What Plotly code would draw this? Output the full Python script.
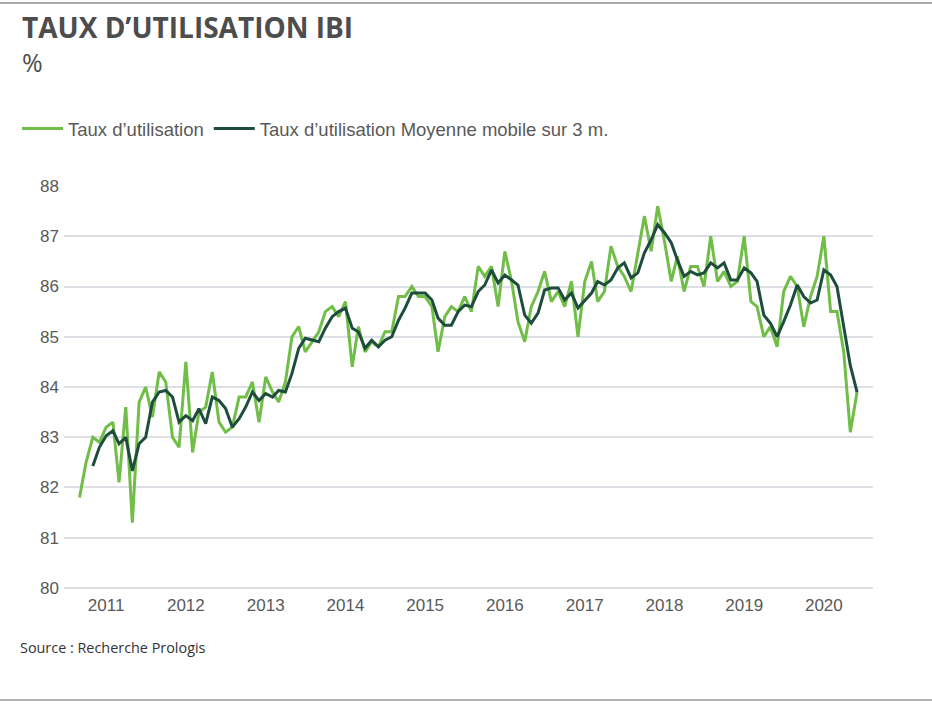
import pandas as pd
import plotly.graph_objects as go

# ---- data (monthly, Sep 2010 -> Jun 2020) ----
start_month = "2010-09-01"
n_months = 118
months = pd.date_range(start_month, periods=n_months, freq="MS")

taux = [81.8, 82.5, 83.0, 82.9, 83.2, 83.3, 82.1, 83.6, 81.3, 83.7,
        84.0, 83.4, 84.3, 84.1, 83.0, 82.8, 84.5, 82.7, 83.5, 83.6,
        84.3, 83.3, 83.1, 83.2, 83.8, 83.8, 84.1, 83.3, 84.2, 83.9,
        83.7, 84.1, 85.0, 85.2, 84.7, 84.9, 85.1, 85.5, 85.6, 85.4,
        85.7, 84.4, 85.2, 84.7, 84.9, 84.8, 85.1, 85.1, 85.8, 85.8,
        86.0, 85.8, 85.8, 85.6, 84.7, 85.4, 85.6, 85.5, 85.8, 85.5,
        86.4, 86.2, 86.4, 85.6, 86.7, 86.1, 85.3, 84.9, 85.6, 85.9,
        86.3, 85.7, 85.9, 85.6, 86.1, 85.0, 86.1, 86.5, 85.7, 85.9,
        86.8, 86.4, 86.2, 85.9, 86.7, 87.4, 86.7, 87.6, 86.9, 86.1,
        86.6, 85.9, 86.4, 86.4, 86.0, 87.0, 86.1, 86.3, 86.0, 86.1,
        87.0, 85.7, 85.6, 85.0, 85.2, 84.8, 85.9, 86.2, 86.0, 85.2,
        85.8, 86.2, 87.0, 85.5, 85.5, 84.7, 83.1, 83.9]

moyenne_3m = [None, None, 82.43, 82.80, 83.03, 83.13, 82.87, 83.00, 82.33, 82.87,
              83.00, 83.70, 83.90, 83.93, 83.80, 83.30, 83.43, 83.33, 83.57, 83.27,
              83.80, 83.73, 83.57, 83.20, 83.37, 83.60, 83.90, 83.73, 83.87, 83.80,
              83.93, 83.90, 84.27, 84.77, 84.97, 84.93, 84.90, 85.17, 85.40, 85.50,
              85.57, 85.17, 85.10, 84.77, 84.93, 84.80, 84.93, 85.00, 85.33, 85.57,
              85.87, 85.87, 85.87, 85.73, 85.37, 85.23, 85.23, 85.50, 85.63, 85.60,
              85.90, 86.03, 86.33, 86.07, 86.23, 86.13, 86.03, 85.43, 85.27, 85.47,
              85.93, 85.97, 85.97, 85.73, 85.87, 85.57, 85.73, 85.87, 86.10, 86.03,
              86.13, 86.37, 86.47, 86.17, 86.27, 86.67, 86.93, 87.23, 87.07, 86.87,
              86.53, 86.20, 86.30, 86.23, 86.27, 86.47, 86.37, 86.47, 86.13, 86.13,
              86.37, 86.27, 86.10, 85.43, 85.27, 85.00, 85.30, 85.63, 86.03, 85.80,
              85.67, 85.73, 86.33, 86.23, 86.00, 85.23, 84.43, 83.90]

year_ticks = ["2011-01-01", "2012-01-01", "2013-01-01", "2014-01-01", "2015-01-01",
              "2016-01-01", "2017-01-01", "2018-01-01", "2019-01-01", "2020-01-01"]
year_labels = ["2011", "2012", "2013", "2014", "2015", "2016", "2017", "2018", "2019", "2020"]
y_ticks = [80, 81, 82, 83, 84, 85, 86, 87, 88]

name_taux = "Taux d’utilisation"
name_moy = "Taux d’utilisation Moyenne mobile sur 3 m."
title_text = "TAUX D’UTILISATION IBI"
unit_text = "%"
source_text = "Source : Recherche Prologis"

# ---- layout geometry ----
W, H = 932, 708
L, R, T, B = 64, 59, 185, 115
PW, PH = W - L - R, H - T - B


def px(xp):
    return (xp - L) / PW


def py(yp):
    return (H - B - yp) / PH


GREEN = "#70bd47"
DARK = "#1f4d3d"
GRAY = "#595959"

fig = go.Figure()
fig.add_trace(go.Scatter(x=months, y=taux, mode="lines", name=name_taux,
                         line=dict(color=GREEN, width=3)))
fig.add_trace(go.Scatter(x=months, y=moyenne_3m, mode="lines", name=name_moy,
                         line=dict(color=DARK, width=3)))

fig.update_layout(
    width=W, height=H, autosize=False,
    margin=dict(l=L, r=R, t=T, b=B),
    paper_bgcolor="white", plot_bgcolor="white",
    font=dict(family="Liberation Sans, Arial, sans-serif", color=GRAY),
    showlegend=True,
    legend=dict(orientation="h", xref="container", yref="container",
                x=17 / W, y=1 - 129 / H, xanchor="left", yanchor="middle",
                font=dict(size=18.5, color=GRAY, family="Liberation Sans, Arial, sans-serif"),
                bgcolor="rgba(0,0,0,0)", itemwidth=41, tracegroupgap=0),
    xaxis=dict(type="date", range=["2010-06-22", "2020-08-13"],
               tickvals=year_ticks, ticktext=year_labels,
               showgrid=False, zeroline=False, showline=False, ticks="",
               tickfont=dict(size=17, color=GRAY)),
    yaxis=dict(range=[79.9, 88.02], tickvals=y_ticks,
               showgrid=True, gridcolor="#dcdfe4", gridwidth=1.5,
               zeroline=False, showline=False, ticks="",
               ticklabelstandoff=4,
               tickfont=dict(size=17, color=GRAY)),
)

fig.add_annotation(text="<b>" + title_text + "</b>", xref="paper", yref="paper",
                   x=px(20), y=py(27), xanchor="left", yanchor="middle", showarrow=False,
                   font=dict(family="Open Sans, sans-serif", size=28, color="#4d4d4d"))
fig.add_annotation(text=unit_text, xref="paper", yref="paper",
                   x=px(20), y=py(62), xanchor="left", yanchor="middle", showarrow=False,
                   font=dict(family="Open Sans, sans-serif", size=25, color="#4d4d4d"))
fig.add_annotation(text=source_text, xref="paper", yref="paper",
                   x=px(18), y=py(647), xanchor="left", yanchor="middle", showarrow=False,
                   font=dict(family="Open Sans, sans-serif", size=14.4, color="#333333"))

fig.add_shape(type="line", xref="paper", yref="paper", x0=px(0), x1=px(W), y0=py(3), y1=py(3),
              line=dict(color="#8c8c8c", width=1.5))
fig.add_shape(type="line", xref="paper", yref="paper", x0=px(0), x1=px(W), y0=py(700), y1=py(700),
              line=dict(color="#9a9a9a", width=1.5))

fig.write_html("out.html")
